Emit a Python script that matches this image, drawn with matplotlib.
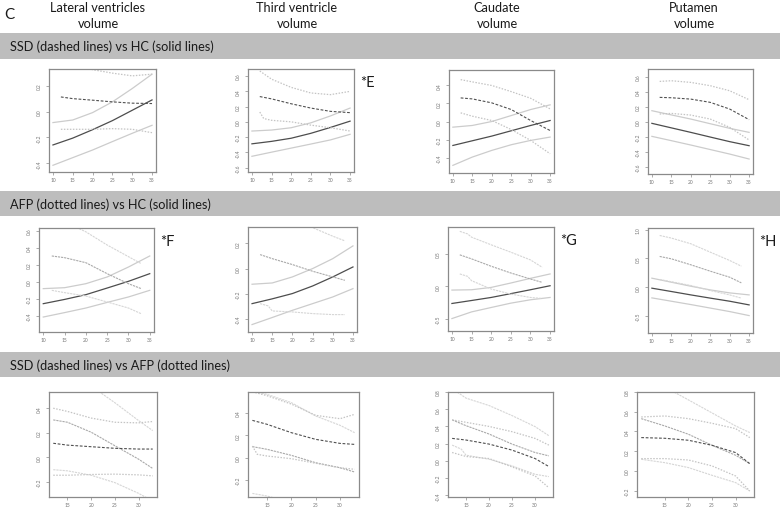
import matplotlib
matplotlib.use("Agg")
import matplotlib.pyplot as plt
from matplotlib.patches import Rectangle

plt.rcParams['font.family'] = ['Lato', 'DejaVu Sans']

# ---------------- text ----------------
column_titles = ["Lateral ventricles\nvolume", "Third ventricle\nvolume", "Caudate\nvolume", "Putamen\nvolume"]
row_titles = ["SSD (dashed lines) vs HC (solid lines)",
              "AFP (dotted lines) vs HC (solid lines)",
              "SSD (dashed lines) vs AFP (dotted lines)"]
marks = {(0, 1): "*E", (1, 0): "*F", (1, 2): "*G", (1, 3): "*H"}

# ---------------- ages ----------------
hc_x = [10, 15, 20, 25, 30, 35]
ssd_x1 = [12, 15, 20, 25, 30, 35]
ssd_x1k = [12, 13, 15, 20, 25, 30, 35]
afp_x = [12, 15, 20, 25, 30, 33]
afp_xk = [12, 14, 15, 20, 25, 30, 33]
ssd_x3 = [12, 15, 20, 25, 30, 33]
ssd_x3k = [12, 13, 15, 20, 25, 30, 33]
put_x3 = [10, 15, 20, 25, 30, 33]

# ---------------- row 1: SSD vs HC ----------------
lv1_hc_mean = [-0.258, -0.205, -0.140, -0.070, 0.010, 0.090]
lv1_hc_up = [-0.085, -0.065, -0.008, 0.075, 0.178, 0.289]
lv1_hc_lo = [-0.415, -0.356, -0.297, -0.232, -0.168, -0.106]
lv1_ssd_mean = [0.113, 0.100, 0.088, 0.075, 0.065, 0.062]
lv1_ssd_up = [0.420, 0.370, 0.324, 0.297, 0.276, 0.289]
lv1_ssd_lo = [-0.137, -0.137, -0.137, -0.132, -0.137, -0.163]

tv1_hc_mean = [-0.287, -0.255, -0.214, -0.150, -0.073, 0.009]
tv1_hc_up = [-0.120, -0.107, -0.077, -0.013, 0.077, 0.180]
tv1_hc_lo = [-0.450, -0.396, -0.343, -0.290, -0.236, -0.163]
tv1_ssd_mean = [0.330, 0.300, 0.236, 0.180, 0.137, 0.120]
tv1_ssd_up = [0.664, 0.557, 0.450, 0.377, 0.355, 0.398]
tv1_ssd_lo = [0.128, 0.043, 0.020, 0.000, -0.043, -0.077, -0.120]

ca1_hc_mean = [-0.266, -0.214, -0.162, -0.103, -0.044, 0.011]
ca1_hc_up = [-0.063, -0.044, 0.000, 0.066, 0.133, 0.185]
ca1_hc_lo = [-0.487, -0.395, -0.321, -0.258, -0.210, -0.173]
ca1_ssd_mean = [0.262, 0.251, 0.207, 0.133, 0.011, -0.100]
ca1_ssd_up = [0.465, 0.440, 0.400, 0.332, 0.258, 0.140]
ca1_ssd_lo = [0.096, 0.059, 0.011, -0.089, -0.210, -0.358]

pu1_hc_mean = [-0.022, -0.082, -0.142, -0.204, -0.265, -0.319]
pu1_hc_up = [0.146, 0.090, 0.035, -0.027, -0.088, -0.142]
pu1_hc_lo = [-0.195, -0.252, -0.310, -0.370, -0.430, -0.496]
pu1_ssd_mean = [0.323, 0.318, 0.300, 0.257, 0.168, 0.027]
pu1_ssd_up = [0.535, 0.544, 0.522, 0.478, 0.411, 0.292]
pu1_ssd_lo = [0.102, 0.110, 0.088, 0.035, -0.075, -0.243]

# ---------------- row 2: AFP vs HC ----------------
lv2_hc_mean = [-0.255, -0.205, -0.149, -0.071, 0.008, 0.098]
lv2_hc_up = [-0.078, -0.067, -0.020, 0.059, 0.176, 0.306]
lv2_hc_lo = [-0.412, -0.360, -0.306, -0.240, -0.176, -0.098]
lv2_afp_mean = [0.306, 0.286, 0.227, 0.098, -0.020, -0.078]
lv2_afp_up = [0.800, 0.710, 0.590, 0.435, 0.298, 0.216]
lv2_afp_lo = [-0.098, -0.125, -0.165, -0.235, -0.306, -0.373]

tv2_hc_mean = [-0.278, -0.240, -0.198, -0.138, -0.066, 0.013]
tv2_hc_up = [-0.124, -0.114, -0.066, 0.000, 0.079, 0.180]
tv2_hc_lo = [-0.444, -0.388, -0.331, -0.278, -0.225, -0.159]
tv2_afp_mean = [0.111, 0.079, 0.032, -0.021, -0.066, -0.093]
tv2_afp_up = [0.700, 0.600, 0.470, 0.325, 0.257, 0.220]
tv2_afp_lo = [-0.278, -0.296, -0.336, -0.344, -0.357, -0.365, -0.365]

ca2_hc_mean = [-0.264, -0.218, -0.171, -0.112, -0.052, 0.010]
ca2_hc_up = [-0.057, -0.052, -0.016, 0.052, 0.124, 0.192]
ca2_hc_lo = [-0.497, -0.394, -0.326, -0.259, -0.207, -0.171]
ca2_afp_mean = [0.487, 0.425, 0.311, 0.207, 0.114, 0.062]
ca2_afp_up = [0.850, 0.810, 0.760, 0.642, 0.528, 0.409, 0.295]
ca2_afp_lo = [0.192, 0.155, 0.088, -0.041, -0.119, -0.171, -0.187]

pu2_hc_mean = [-0.017, -0.075, -0.134, -0.190, -0.244, -0.308]
pu2_hc_up = [0.157, 0.087, 0.017, -0.047, -0.099, -0.134]
pu2_hc_lo = [-0.186, -0.244, -0.302, -0.363, -0.424, -0.494]
pu2_afp_mean = [0.535, 0.494, 0.390, 0.279, 0.174, 0.076]
pu2_afp_up = [0.900, 0.855, 0.756, 0.610, 0.465, 0.366]
pu2_afp_lo = [0.134, 0.095, 0.030, -0.058, -0.134, -0.190]

# ---------------- row 3: SSD vs AFP ----------------
lv3_ssd_mean = [0.115, 0.100, 0.087, 0.074, 0.068, 0.068]
lv3_ssd_up = [0.400, 0.374, 0.320, 0.286, 0.281, 0.292]
lv3_ssd_lo = [-0.145, -0.145, -0.139, -0.136, -0.142, -0.150]
lv3_afp_mean = [0.305, 0.286, 0.205, 0.095, -0.014, -0.090]
lv3_afp_up = [0.800, 0.720, 0.580, 0.445, 0.300, 0.218]
lv3_afp_lo = [-0.100, -0.109, -0.145, -0.205, -0.292, -0.355]

tv3_ssd_mean = [0.334, 0.299, 0.224, 0.164, 0.128, 0.119]
tv3_ssd_up = [0.590, 0.555, 0.480, 0.379, 0.349, 0.388]
tv3_ssd_lo = [0.104, 0.030, 0.015, -0.009, -0.050, -0.090, -0.104]
tv3_afp_mean = [0.099, 0.075, 0.021, -0.045, -0.090, -0.128]
tv3_afp_up = [0.597, 0.567, 0.493, 0.373, 0.290, 0.224]
tv3_afp_lo = [-0.320, -0.343, -0.400, -0.460, -0.520, -0.560]

ca3_ssd_mean = [0.261, 0.242, 0.195, 0.125, 0.027, -0.066]
ca3_ssd_up = [0.476, 0.448, 0.400, 0.339, 0.261, 0.183]
ca3_ssd_lo = [0.097, 0.051, 0.027, -0.070, -0.175, -0.312]
ca3_afp_mean = [0.476, 0.409, 0.312, 0.195, 0.097, 0.058]
ca3_afp_up = [0.840, 0.729, 0.643, 0.526, 0.398, 0.292]
ca3_afp_lo = [0.183, 0.136, 0.066, 0.019, -0.058, -0.156, -0.183]

pu3_ssd_mean = [0.338, 0.331, 0.311, 0.260, 0.186, 0.074]
pu3_ssd_up = [0.547, 0.557, 0.530, 0.483, 0.429, 0.338]
pu3_ssd_lo = [0.125, 0.125, 0.111, 0.051, -0.051, -0.203]
pu3_afp_mean = [0.530, 0.456, 0.372, 0.260, 0.159, 0.074]
pu3_afp_up = [0.980, 0.850, 0.720, 0.588, 0.456, 0.389]
pu3_afp_lo = [0.118, 0.084, 0.034, -0.044, -0.118, -0.203]

# ---------------- styles ----------------
STY = {
    "hc_mean": dict(color="#4d4d4d", lw=0.9, ls="-"),
    "hc_ci": dict(color="#cccccc", lw=0.9, ls="-"),
    "ssd_mean": dict(color="#505050", lw=0.8, ls=(0, (2.5, 1.5))),
    "ssd_ci": dict(color="#c4c4c4", lw=0.9, ls=(0, (1.2, 1.2))),
    "afp_mean": dict(color="#aaaaaa", lw=0.8, ls=(0, (2.0, 0.8))),
    "afp_ci": dict(color="#d6d6d6", lw=0.8, ls=(0, (2.0, 0.8))),
}

# panel pixel boxes (x0, y0, x1, y1) in a 780x510 canvas
W, H = 780, 510
boxes = [
    [(49, 70, 156, 173), (248, 70, 354, 173), (449, 71, 554, 174), (648, 70, 753, 175)],
    [(39, 229, 154, 333), (248, 228, 357, 333), (448, 228, 554, 332), (648, 229, 753, 334)],
    [(49, 393, 157, 498), (248, 393, 359, 498), (448, 393, 553, 498), (637, 393, 754, 498)],
]

panels = [
    [
        dict(ylim=(-0.467, 0.329), yt=[-0.4, -0.2, 0.0, 0.2], xlim=(9, 36), xt=[10, 15, 20, 25, 30, 35],
             curves=[(hc_x, lv1_hc_up, "hc_ci"), (hc_x, lv1_hc_lo, "hc_ci"), (hc_x, lv1_hc_mean, "hc_mean"),
                     (ssd_x1, lv1_ssd_up, "ssd_ci"), (ssd_x1, lv1_ssd_lo, "ssd_ci"), (ssd_x1, lv1_ssd_mean, "ssd_mean")]),
        dict(ylim=(-0.655, 0.69), yt=[-0.6, -0.4, -0.2, 0.0, 0.2, 0.4, 0.6], xlim=(9, 36), xt=[10, 15, 20, 25, 30, 35],
             curves=[(hc_x, tv1_hc_up, "hc_ci"), (hc_x, tv1_hc_lo, "hc_ci"), (hc_x, tv1_hc_mean, "hc_mean"),
                     (ssd_x1, tv1_ssd_up, "ssd_ci"), (ssd_x1k, tv1_ssd_lo, "ssd_ci"), (ssd_x1, tv1_ssd_mean, "ssd_mean")]),
        dict(ylim=(-0.572, 0.572), yt=[-0.4, -0.2, 0.0, 0.2, 0.4], xlim=(9, 36), xt=[10, 15, 20, 25, 30, 35],
             curves=[(hc_x, ca1_hc_up, "hc_ci"), (hc_x, ca1_hc_lo, "hc_ci"), (hc_x, ca1_hc_mean, "hc_mean"),
                     (ssd_x1, ca1_ssd_up, "ssd_ci"), (ssd_x1, ca1_ssd_lo, "ssd_ci"), (ssd_x1, ca1_ssd_mean, "ssd_mean")]),
        dict(ylim=(-0.695, 0.70), yt=[-0.6, -0.4, -0.2, 0.0, 0.2, 0.4, 0.6], xlim=(9, 36), xt=[10, 15, 20, 25, 30, 35],
             curves=[(hc_x, pu1_hc_up, "hc_ci"), (hc_x, pu1_hc_lo, "hc_ci"), (hc_x, pu1_hc_mean, "hc_mean"),
                     (ssd_x1, pu1_ssd_up, "ssd_ci"), (ssd_x1, pu1_ssd_lo, "ssd_ci"), (ssd_x1, pu1_ssd_mean, "ssd_mean")]),
    ],
    [
        dict(ylim=(-0.588, 0.635), yt=[-0.4, -0.2, 0.0, 0.2, 0.4, 0.6], xlim=(9, 36), xt=[10, 15, 20, 25, 30, 35],
             curves=[(hc_x, lv2_hc_up, "hc_ci"), (hc_x, lv2_hc_lo, "hc_ci"), (hc_x, lv2_hc_mean, "hc_mean"),
                     (afp_x, lv2_afp_up, "afp_ci"), (afp_x, lv2_afp_lo, "afp_ci"), (afp_x, lv2_afp_mean, "afp_mean")]),
        dict(ylim=(-0.503, 0.33), yt=[-0.4, -0.2, 0.0, 0.2], xlim=(9, 36), xt=[10, 15, 20, 25, 30, 35],
             curves=[(hc_x, tv2_hc_up, "hc_ci"), (hc_x, tv2_hc_lo, "hc_ci"), (hc_x, tv2_hc_mean, "hc_mean"),
                     (afp_x, tv2_afp_up, "afp_ci"), (afp_xk, tv2_afp_lo, "afp_ci"), (afp_x, tv2_afp_mean, "afp_mean")]),
        dict(ylim=(-0.689, 0.917), yt=[-0.5, 0.0, 0.5], xlim=(9, 36), xt=[10, 15, 20, 25, 30, 35],
             curves=[(hc_x, ca2_hc_up, "hc_ci"), (hc_x, ca2_hc_lo, "hc_ci"), (hc_x, ca2_hc_mean, "hc_mean"),
                     (afp_xk, ca2_afp_up, "afp_ci"), (afp_xk, ca2_afp_lo, "afp_ci"), (afp_x, ca2_afp_mean, "afp_mean")]),
        dict(ylim=(-0.797, 1.03), yt=[-0.5, 0.0, 0.5, 1.0], xlim=(9, 36), xt=[10, 15, 20, 25, 30, 35],
             curves=[(hc_x, pu2_hc_up, "hc_ci"), (hc_x, pu2_hc_lo, "hc_ci"), (hc_x, pu2_hc_mean, "hc_mean"),
                     (afp_x, pu2_afp_up, "afp_ci"), (afp_x, pu2_afp_lo, "afp_ci"), (afp_x, pu2_afp_mean, "afp_mean")]),
    ],
    [
        dict(ylim=(-0.322, 0.532), yt=[-0.2, 0.0, 0.2, 0.4], xlim=(11.1, 33.9), xt=[15, 20, 25, 30],
             curves=[(afp_x, lv3_afp_up, "afp_ci"), (afp_x, lv3_afp_lo, "afp_ci"), (afp_x, lv3_afp_mean, "afp_mean"),
                     (ssd_x3, lv3_ssd_up, "ssd_ci"), (ssd_x3, lv3_ssd_lo, "ssd_ci"), (ssd_x3, lv3_ssd_mean, "ssd_mean")]),
        dict(ylim=(-0.352, 0.588), yt=[-0.2, 0.0, 0.2, 0.4], xlim=(11.1, 33.9), xt=[15, 20, 25, 30],
             curves=[(afp_x, tv3_afp_up, "afp_ci"), (afp_x, tv3_afp_lo, "afp_ci"), (afp_x, tv3_afp_mean, "afp_mean"),
                     (ssd_x3, tv3_ssd_up, "ssd_ci"), (ssd_x3k, tv3_ssd_lo, "ssd_ci"), (ssd_x3, tv3_ssd_mean, "ssd_mean")]),
        dict(ylim=(-0.42, 0.80), yt=[-0.4, -0.2, 0.0, 0.2, 0.4, 0.6, 0.8], xlim=(11.1, 33.9), xt=[15, 20, 25, 30],
             curves=[(afp_x, ca3_afp_up, "afp_ci"), (afp_xk, ca3_afp_lo, "afp_ci"), (afp_x, ca3_afp_mean, "afp_mean"),
                     (ssd_x3, ca3_ssd_up, "ssd_ci"), (ssd_x3, ca3_ssd_lo, "ssd_ci"), (ssd_x3, ca3_ssd_mean, "ssd_mean")]),
        dict(ylim=(-0.264, 0.80), yt=[-0.2, 0.0, 0.2, 0.4, 0.6, 0.8], xlim=(9.1, 33.9), xt=[15, 20, 25, 30],
             curves=[(put_x3, pu3_afp_up, "afp_ci"), (put_x3, pu3_afp_lo, "afp_ci"), (put_x3, pu3_afp_mean, "afp_mean"),
                     (put_x3, pu3_ssd_up, "ssd_ci"), (put_x3, pu3_ssd_lo, "ssd_ci"), (put_x3, pu3_ssd_mean, "ssd_mean")]),
    ],
]

fig = plt.figure(figsize=(7.8, 5.1), dpi=100)
fig.patch.set_facecolor("white")

def fx(px):
    return px / W

def fy(py):
    return 1 - py / H

# banners
banner_rows = [(34, 60), (192, 217), (353, 378)]
for (y0, y1), txt in zip(banner_rows, row_titles):
    fig.patches.append(Rectangle((0, fy(y1)), 1, (y1 - y0) / H, transform=fig.transFigure,
                                 facecolor="#bdbdbd", edgecolor="none", zorder=0))
    fig.text(fx(10), fy((y0 + y1) / 2), txt, ha="left", va="center", fontsize=9.2, color="#1a1a1a")

# header
fig.text(fx(4), fy(15), "C", ha="left", va="center", fontsize=11, color="#1a1a1a")
title_cx = [98, 297, 497, 694]
for cx, t in zip(title_cx, column_titles):
    fig.text(fx(cx), fy(16), t, ha="center", va="center", fontsize=9.2, color="#1a1a1a", linespacing=1.35)

for r in range(3):
    for c in range(4):
        x0, y0, x1, y1 = boxes[r][c]
        p = panels[r][c]
        ax = fig.add_axes([fx(x0), fy(y1), (x1 - x0) / W, (y1 - y0) / H])
        for xs, ys, key in p["curves"]:
            ax.plot(xs, ys, **STY[key])
        ax.set_xlim(*p["xlim"])
        ax.set_ylim(*p["ylim"])
        ax.set_xticks(p["xt"])
        ax.set_xticklabels([str(v) for v in p["xt"]])
        ax.set_yticks(p["yt"])
        ax.set_yticklabels([f"{v:.1f}" for v in p["yt"]], rotation=90, va="center")
        for s in ax.spines.values():
            s.set_color("#8a8a8a")
            s.set_linewidth(0.9)
        ax.tick_params(length=2.0, width=0.5, colors="#8a8a8a", labelsize=3.5,
                       labelcolor="#777777")
        ax.tick_params(axis="x", pad=1.5)
        ax.tick_params(axis="y", pad=3)

for (r, c), txt in marks.items():
    x0, y0, x1, y1 = boxes[r][c]
    fig.text(fx(x1 + 6), fy(y0 + 13), txt, ha="left", va="center", fontsize=10.5, color="#1a1a1a")

fig.savefig("out.png", dpi=100, facecolor="white")
